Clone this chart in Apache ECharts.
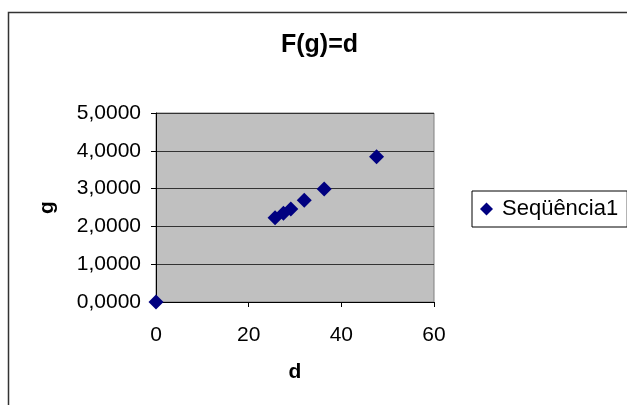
<!DOCTYPE html>
<html>
<head>
<meta charset="utf-8">
<script src="https://cdn.jsdelivr.net/npm/echarts@6/dist/echarts.min.js"></script>
<style>
  html, body { margin: 0; padding: 0; background: #fff; }
  #chart { width: 627px; height: 405px; }
</style>
</head>
<body>
<div id="chart"></div>
<script>
const dValues = [0, 25.7, 27.5, 29.1, 32.0, 36.3, 47.6];
const gValues = [0, 2.23, 2.35, 2.46, 2.69, 2.99, 3.84];
const seriesName = 'Seqüência1';
const titleText = 'F(g)=d';

const points = dValues.map((d, i) => [d, gValues[i]]);
const font = '"Liberation Sans", Arial, sans-serif';

const chart = echarts.init(document.getElementById('chart'));

chart.setOption({
  animation: false,
  backgroundColor: '#fff',
  title: {
    text: titleText,
    left: 281,
    top: 33,
    padding: 0,
    textStyle: { fontFamily: font, fontSize: 25, fontWeight: 'bold', color: '#000' }
  },
  legend: {
    data: [{ name: seriesName, icon: 'diamond' }],
    left: 472,
    top: 191,
    padding: [7, 9, 7, 8],
    itemWidth: 13,
    itemHeight: 13,
    itemGap: 6,
    borderColor: '#000',
    borderWidth: 1,
    backgroundColor: '#fff',
    textStyle: { fontFamily: font, fontSize: 22, color: '#000', padding: [0, 0, 0, 4] }
  },
  grid: {
    left: 156,
    right: 193,
    top: 113,
    bottom: 103,
    show: true,
    backgroundColor: '#c0c0c0',
    borderColor: '#808080',
    borderWidth: 1
  },
  xAxis: {
    type: 'value',
    min: 0,
    max: 60,
    interval: 20,
    name: 'd',
    nameLocation: 'middle',
    nameGap: 60,
    nameTextStyle: { fontFamily: font, fontSize: 21, fontWeight: 'bold', color: '#000' },
    axisLine: { show: true, onZero: false, lineStyle: { color: '#000', width: 1 } },
    axisTick: { show: true, length: 5, lineStyle: { color: '#000' } },
    axisLabel: { margin: 23, fontFamily: font, fontSize: 21, color: '#000' },
    splitLine: { show: false }
  },
  yAxis: {
    type: 'value',
    min: 0,
    max: 5,
    interval: 1,
    name: 'g',
    nameLocation: 'middle',
    nameGap: 98,
    nameTextStyle: { fontFamily: font, fontSize: 21, fontWeight: 'bold', color: '#000' },
    axisLine: { show: true, onZero: false, lineStyle: { color: '#000', width: 1 } },
    axisTick: { show: true, length: 5, lineStyle: { color: '#000' } },
    axisLabel: {
      margin: 15,
      fontFamily: font,
      fontSize: 21,
      color: '#000',
      formatter: v => v.toFixed(4).replace('.', ',')
    },
    splitLine: { show: true, lineStyle: { color: '#333', width: 1 } }
  },
  graphic: [{
    type: 'rect',
    silent: true,
    z: 100,
    shape: { x: 8.5, y: 12.5, width: 640, height: 420 },
    style: { fill: 'none', stroke: '#333', lineWidth: 1.5 }
  }],
  series: [{
    name: seriesName,
    type: 'scatter',
    data: points,
    symbol: 'diamond',
    symbolSize: 15,
    clip: false,
    itemStyle: { color: '#000080', opacity: 1 }
  }]
});
</script>
</body>
</html>
